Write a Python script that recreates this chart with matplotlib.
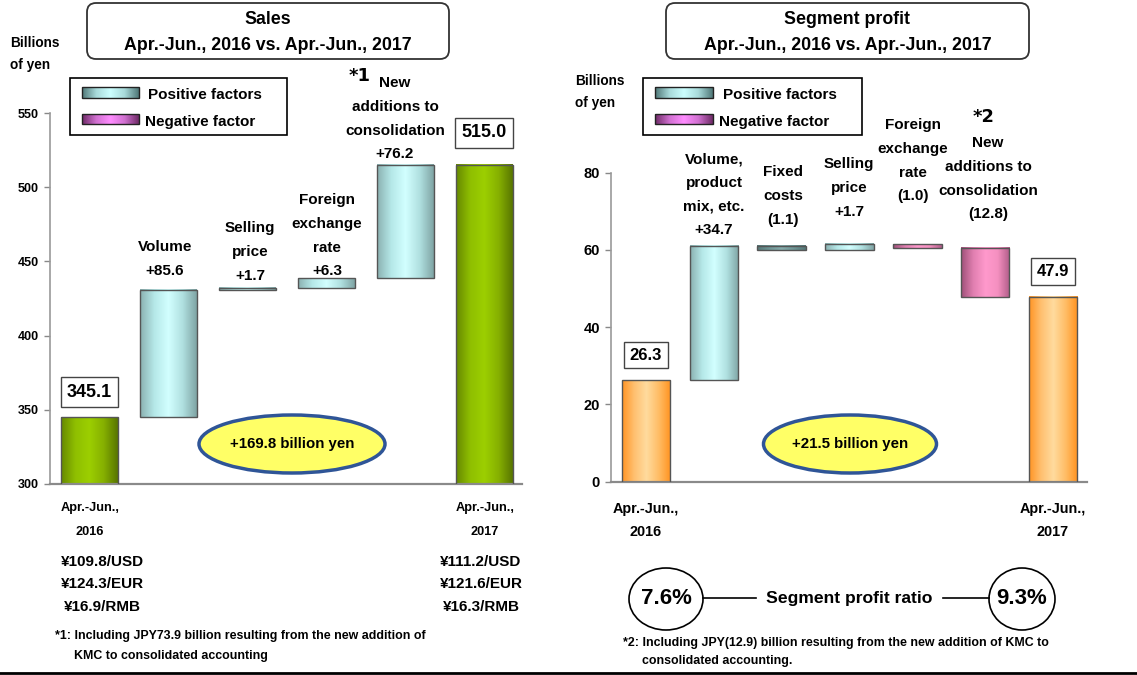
import numpy as np
import matplotlib.pyplot as plt
from matplotlib.colors import LinearSegmentedColormap
from matplotlib.patches import FancyBboxPatch, Ellipse, Rectangle

FONT = ['Liberation Sans Narrow', 'Liberation Sans', 'DejaVu Sans']
plt.rcParams['font.family'] = FONT
plt.rcParams['font.weight'] = 'bold'

# ---- data: sales (billions of yen)
sales_start = 345.1
sales_end = 515.0
sales_labels = ["Volume\n+85.6", "Selling\nprice\n+1.7", "Foreign\nexchange\nrate\n+6.3",
                "New\nadditions to\nconsolidation\n+76.2"]
sales_changes = [85.6, 1.7, 6.3, 76.2]
sales_ticks = [300, 350, 400, 450, 500, 550]
sales_total = "+169.8 billion yen"
rates_2016 = ["¥109.8/USD", "¥124.3/EUR", "¥16.9/RMB"]
rates_2017 = ["¥111.2/USD", "¥121.6/EUR", "¥16.3/RMB"]

# ---- data: segment profit (billions of yen)
profit_start = 26.3
profit_end = 47.9
profit_labels = ["Volume,\nproduct\nmix, etc.\n+34.7", "Fixed\ncosts\n(1.1)", "Selling\nprice\n+1.7",
                 "Foreign\nexchange\nrate\n(1.0)", "New\nadditions to\nconsolidation\n(12.8)"]
profit_changes = [34.7, -1.1, 1.7, -1.0, -12.8]
profit_ticks = [0, 20, 40, 60, 80]
profit_total = "+21.5 billion yen"
ratio_2016 = "7.6%"
ratio_2017 = "9.3%"

period_2016 = "Apr.-Jun.,\n2016"
period_2017 = "Apr.-Jun.,\n2017"

# gradient colour maps (left edge -> highlight -> right edge)
cm_green = LinearSegmentedColormap.from_list("g", ["#668800", "#8fbf00", "#9ccf00", "#86b000", "#587500"])
cm_teal = LinearSegmentedColormap.from_list("t", ["#8ab0b0", "#b5e8e8", "#d2ffff", "#b0e0e0", "#7fa4a4"])
cm_teal_dark = LinearSegmentedColormap.from_list("td", ["#557777", "#6f9696", "#86acac", "#6f9696", "#557777"])
cm_pink = LinearSegmentedColormap.from_list("p", ["#9e4f78", "#e07fb0", "#ff99cc", "#f590c0", "#b05c88"])
cm_orange = LinearSegmentedColormap.from_list("o", ["#ff9424", "#ffc070", "#ffdb9e", "#ffbd66", "#ff921f"])
cm_leg_pos = LinearSegmentedColormap.from_list("lp", ["#4f7777", "#a8dada", "#ccffff", "#a8dada", "#4f7777"])
cm_leg_neg = LinearSegmentedColormap.from_list("ln", ["#6e2a66", "#d070d0", "#ff8cff", "#d070d0", "#6e2a66"])

GRAD = np.linspace(0, 1, 256).reshape(1, -1)


def gradient_bars(ax, bars, cmaps):
    for b, cm in zip(bars, cmaps):
        x0, w = b.get_x(), b.get_width()
        y0, h = b.get_y(), b.get_height()
        lo, hi = min(y0, y0 + h), max(y0, y0 + h)
        ax.imshow(GRAD, cmap=cm, extent=[x0, x0 + w, lo, hi], aspect="auto",
                  interpolation="bilinear", zorder=2)


def waterfall(ax, start, changes, end, width, total_cmap, step_cmaps):
    changes = np.array(changes)
    levels = start + np.cumsum(changes)
    bottoms = np.concatenate([[start], levels[:-1]])
    n = len(changes)
    xs = np.arange(n + 2)
    heights = np.concatenate([[start], changes, [end]])
    bots = np.concatenate([[0], bottoms, [0]])
    bars = ax.bar(xs, heights, width=width, bottom=bots, facecolor="none",
                  edgecolor="#555555", linewidth=1.0, zorder=3)
    gradient_bars(ax, bars, [total_cmap] + step_cmaps + [total_cmap])
    return bars


def style_axes(ax, ticks, fs):
    for s in ["top", "right"]:
        ax.spines[s].set_visible(False)
    ax.spines["left"].set_color("#9a9a9a")
    ax.spines["left"].set_linewidth(1.2)
    ax.spines["bottom"].set_color("#8a8a8a")
    ax.spines["bottom"].set_linewidth(1.6)
    ax.set_xticks([])
    ax.set_yticks(ticks)
    ax.tick_params(axis="y", direction="out", length=4, width=1, color="#888888",
                   pad=4, labelsize=fs)
    ax.set_facecolor("none")


fig = plt.figure(figsize=(11.37, 6.75), dpi=100)
W, H = 1137, 675

# ---- left chart: sales
ax1 = fig.add_axes([50 / W, 1 - 484 / H, 472 / W, 371 / H])
waterfall(ax1, sales_start, sales_changes, sales_end, 0.72, cm_green, [cm_teal] * 4)
style_axes(ax1, sales_ticks, 9)
ax1.set_xlim(-0.5, 5.48)
ax1.set_ylim(300, 550)

# ---- right chart: segment profit
ax2 = fig.add_axes([611 / W, 1 - 481.7 / H, 476 / W, 309 / H])
waterfall(ax2, profit_start, profit_changes, profit_end, 0.715, cm_orange,
          [cm_teal, cm_teal_dark, cm_teal, cm_pink, cm_pink])
style_axes(ax2, profit_ticks, 10.5)
ax2.set_xlim(-0.515, 6.5)
ax2.set_ylim(0, 80)

# value boxes above the total bars
for ax, x, v, off, fs in [(ax1, 0, sales_start, 18, 13), (ax1, 5, sales_end, 23, 13),
                          (ax2, 0, profit_start, 18, 12), (ax2, 6, profit_end, 18, 12)]:
    box = dict(boxstyle="square,pad=0.35", fc="white", ec="#444444", lw=1.0)
    ax.annotate(f"{v:.1f}", (x, v), xytext=(0, off), textcoords="offset points",
                ha="center", va="center", fontsize=fs, bbox=box, zorder=5)

# ---- overlay in pixel coordinates for titles, legends and notes
ov = fig.add_axes([0, 0, 1, 1], zorder=10)
ov.set_facecolor("none")
ov.axis("off")


def title_box(x0, x1, line1, line2):
    ov.add_patch(FancyBboxPatch((x0, 3), x1 - x0, 56, boxstyle="round,pad=0,rounding_size=9",
                                fc="white", ec="#333333", lw=1.3))
    cx = (x0 + x1) / 2
    ov.text(cx, 20, line1, ha="center", va="center", fontsize=12.8)
    ov.text(cx, 45, line2, ha="center", va="center", fontsize=12.8)


title_box(87, 449, "Sales", "Apr.-Jun., 2016 vs. Apr.-Jun., 2017")
title_box(666, 1029, "Segment profit", "Apr.-Jun., 2016 vs. Apr.-Jun., 2017")

ov.text(10, 54, "Billions\nof yen", ha="left", va="center", fontsize=9.8, linespacing=1.7)
ov.text(575, 92, "Billions\nof yen", ha="left", va="center", fontsize=9.8, linespacing=1.7)


def legend_box(x0, x1, px0, px1, tx_pos, tx_neg):
    ov.add_patch(Rectangle((x0, 78), x1 - x0, 57, fc="white", ec="black", lw=1.2))
    for (y0, y1), cm in [((87, 98), cm_leg_pos), ((114, 124), cm_leg_neg)]:
        ov.imshow(GRAD, cmap=cm, extent=[px0, px1, y1, y0], aspect="auto",
                  interpolation="bilinear", zorder=3)
        ov.add_patch(Rectangle((px0, y0), px1 - px0, y1 - y0, fc="none", ec="#222222",
                               lw=1.0, zorder=4))
    ov.text(tx_pos, 95, "Positive factors", ha="left", va="center", fontsize=11)
    ov.text(tx_neg, 122, "Negative factor", ha="left", va="center", fontsize=11)


legend_box(70, 287, 82, 139, 148, 145)
legend_box(643, 862, 655, 713, 723, 719)


def factor_label(x, y_first, lab, step=23.8):
    for i, line in enumerate(lab.split("\n")):
        ov.text(x, y_first + i * step, line, ha="center", va="center", fontsize=11)


# factor labels (x centre, y of first line)
for (x, y), lab in zip([(165, 247), (250, 228), (327, 200), (395, 83)], sales_labels):
    factor_label(x, y, lab)
ov.text(360, 76, "*1", ha="center", va="center", fontsize=13, family=["DejaVu Sans"])

for (x, y), lab in zip([(714, 159), (783, 172), (849, 164), (913, 125), (988, 143)],
                       profit_labels):
    factor_label(x, y, lab)
ov.text(984, 117, "*2", ha="center", va="center", fontsize=13, family=["DejaVu Sans"])

# total change ellipses
for cx, txt, w in [(292, sales_total, 186), (850, profit_total, 173)]:
    ov.add_patch(Ellipse((cx, 444), w, 58, fc="#ffff66", ec="#2f5597", lw=2.5))
    ov.text(cx, 444, txt, ha="center", va="center", fontsize=10.8)

# period labels
ov.text(90, 520, period_2016, ha="center", va="center", fontsize=9.2, linespacing=2.4)
ov.text(485, 520, period_2017, ha="center", va="center", fontsize=9.2, linespacing=2.4)
ov.text(646, 520.5, period_2016, ha="center", va="center", fontsize=10.4, linespacing=1.8)
ov.text(1053, 520.5, period_2017, ha="center", va="center", fontsize=10.4, linespacing=1.8)

# exchange rates
ov.text(102, 584.5, "\n".join(rates_2016), ha="center", va="center", fontsize=11, linespacing=1.78)
ov.text(481, 584.5, "\n".join(rates_2017), ha="center", va="center", fontsize=11, linespacing=1.78)

# segment profit ratio
ov.add_patch(Ellipse((666, 599), 74, 62, fc="white", ec="black", lw=1.2))
ov.add_patch(Ellipse((1022, 599), 66, 62, fc="white", ec="black", lw=1.2))
ov.text(666, 599, ratio_2016, ha="center", va="center", fontsize=16)
ov.text(1022, 599, ratio_2017, ha="center", va="center", fontsize=16)
ov.plot([703, 756], [598, 598], color="black", lw=1.2)
ov.plot([943, 989], [598, 598], color="black", lw=1.2)
ov.text(849, 598, "Segment profit ratio", ha="center", va="center", fontsize=12.6)

# footnotes
ov.text(55, 636, "*1: Including JPY73.9 billion resulting from the new addition of",
        ha="left", va="center", fontsize=8.9)
ov.text(74, 656, "KMC to consolidated accounting", ha="left", va="center", fontsize=8.9)
ov.text(623, 643, "*2: Including JPY(12.9) billion resulting from the new addition of KMC to",
        ha="left", va="center", fontsize=8.9)
ov.text(642, 661, "consolidated accounting.", ha="left", va="center", fontsize=8.9)

ov.plot([0, W], [673, 673], color="black", lw=2)

ov.set_xlim(0, W)
ov.set_ylim(H, 0)

fig.savefig("out.png", dpi=100)
